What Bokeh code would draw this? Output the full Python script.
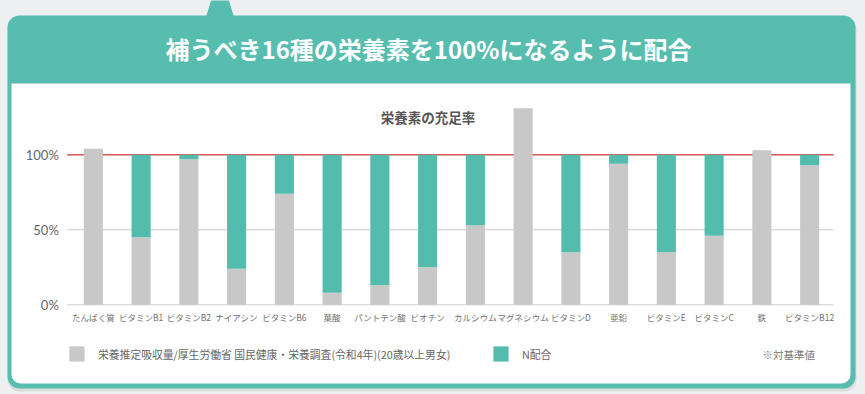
from bokeh.plotting import figure
from bokeh.models import (Range1d, BoxAnnotation, PolyAnnotation, Label, Legend, LegendItem,
                          ColumnDataSource, GlobalInlineStyleSheet)
from bokeh.core.properties import value
from bokeh.embed import file_html
from bokeh.resources import INLINE

# ---------------- data ----------------
categories = ["たんぱく質", "ビタミンB1", "ビタミンB2", "ナイアシン", "ビタミンB6", "葉酸",
              "パントテン酸", "ビオチン", "カルシウム", "マグネシウム", "ビタミンD", "亜鉛",
              "ビタミンE", "ビタミンC", "鉄", "ビタミンB12"]
intake = [104, 45, 97, 24, 74, 8, 13, 25, 53, 131, 35, 94, 35, 46, 103, 93]
n_blend = [0, 55, 3, 76, 26, 92, 87, 75, 47, 0, 65, 6, 65, 54, 0, 7]
y_ticks = [0, 50, 100]
y_tick_labels = ["0%", "50%", "100%"]
reference_level = 100
series_names = ["栄養推定吸収量/厚生労働省 国民健康・栄養調査(令和4年)(20歳以上男女)", "N配合"]
header_text = "補うべき16種の栄養素を100%になるように配合"
chart_title = "栄養素の充足率"
note_text = "※対基準値"

# ---------------- style / layout ----------------
GRAY = "#c8c8c8"
TEAL = "#53bcad"
HEAD = "#56bdaf"
RED = "#e0585a"
PAGE = "#eeeff0"
JP = "Noto Sans CJK JP"

W, H = 865, 394
LEFT = 69.0      # pixel where the first category slot starts
SP = 47.75       # pixels per category slot
Y0 = 304.3       # pixel of value 0
PX = 1.5         # pixels per percent

p = figure(x_range=Range1d(-LEFT / SP, (W - LEFT) / SP),
           y_range=Range1d(-(H - Y0) / PX, Y0 / PX),
           width=W, height=H, output_backend="svg", toolbar_location=None,
           x_axis_location=None, y_axis_location=None,
           min_border=0, min_border_left=0, min_border_right=0, min_border_top=0, min_border_bottom=0)
p.stylesheets = [GlobalInlineStyleSheet(css="body{background:#eeeff0;}")]
p.border_fill_color = PAGE
p.background_fill_color = PAGE
p.outline_line_color = None
for g in p.grid:
    g.visible = False

def cbox(l, r, t, b, color, radius=0):
    return BoxAnnotation(left=l, right=r, top=t, bottom=b,
                         left_units="canvas", right_units="canvas",
                         top_units="canvas", bottom_units="canvas",
                         fill_color=color, fill_alpha=1, line_color=None,
                         border_radius=radius, level="image")

# card decoration
p.add_layout(cbox(7, 856, 17, 391, "#dadddd", 12))
p.add_layout(cbox(7, 855, 15, 388, HEAD, 12))
p.add_layout(cbox(11, 850, 83, 383, "white", (0, 0, 9, 9)))
p.add_layout(PolyAnnotation(xs=[211, 228, 234, 205], ys=[-1, -1, 18, 18],
                            xs_units="canvas", ys_units="canvas",
                            fill_color=HEAD, fill_alpha=1, line_color=None, level="image"))

p.add_layout(Label(x=428, y=48, x_units="canvas", y_units="canvas", text=header_text,
                   text_align="center", text_baseline="middle", text_font=JP, text_font_style="bold",
                   text_font_size="24px", text_color="white"))
p.add_layout(Label(x=427.5, y=116, x_units="canvas", y_units="canvas", text=chart_title,
                   text_align="center", text_baseline="middle", text_font=JP, text_font_style="bold",
                   text_font_size="13.5px", text_color="#555555"))
p.add_layout(Label(x=762, y=354, x_units="canvas", y_units="canvas", text=note_text,
                   text_align="left", text_baseline="middle", text_font=JP,
                   text_font_size="10.5px", text_color="#777777"))

# positions of categories on the x scale
xc = [i + 0.5 for i in range(len(categories))]
n = len(categories)

# grid lines and 100% reference line
grid_x0, grid_x1 = -2.3 / SP, float(n)
p.segment(x0=grid_x0, x1=grid_x1, y0=y_ticks, y1=y_ticks, line_color="#cccccc", line_width=1)
p.segment(x0=grid_x0, x1=grid_x1, y0=reference_level, y1=reference_level, line_color=RED, line_width=1.5)

# bars
source = ColumnDataSource(dict(x=xc, cat=categories, intake=intake, n_blend=n_blend))
rs = p.vbar_stack(["intake", "n_blend"], x="x", width=0.4, color=[GRAY, TEAL],
                  line_color=None, source=source)

# y tick labels
ysrc = ColumnDataSource(dict(x=[-10.7 / SP] * len(y_ticks), y=y_ticks, t=y_tick_labels))
p.text(x="x", y="y", text="t", source=ysrc, text_align="right", text_baseline="middle",
       text_font=value("Lato"), text_font_size="13px", text_color="#666666")

# category labels
lsrc = ColumnDataSource(dict(x=xc, y=[-7.8] * n, t=categories))
p.text(x="x", y="y", text="t", source=lsrc, text_align="center", text_baseline="middle",
       text_font=value(JP), text_font_size="8.5px", text_color="#707070")

# legends
for name, r, loc in zip(series_names, rs, [(67, 31), (491, 31)]):
    lg = Legend(items=[LegendItem(label=name, renderers=[r])], location=loc,
                glyph_width=19, glyph_height=19, label_standoff=12, padding=0, margin=0,
                border_line_color=None, background_fill_alpha=0,
                label_text_font=JP, label_text_font_size="10.8px", label_text_color="#666666")
    p.add_layout(lg)

open("out.html", "w").write(file_html(p, INLINE))
